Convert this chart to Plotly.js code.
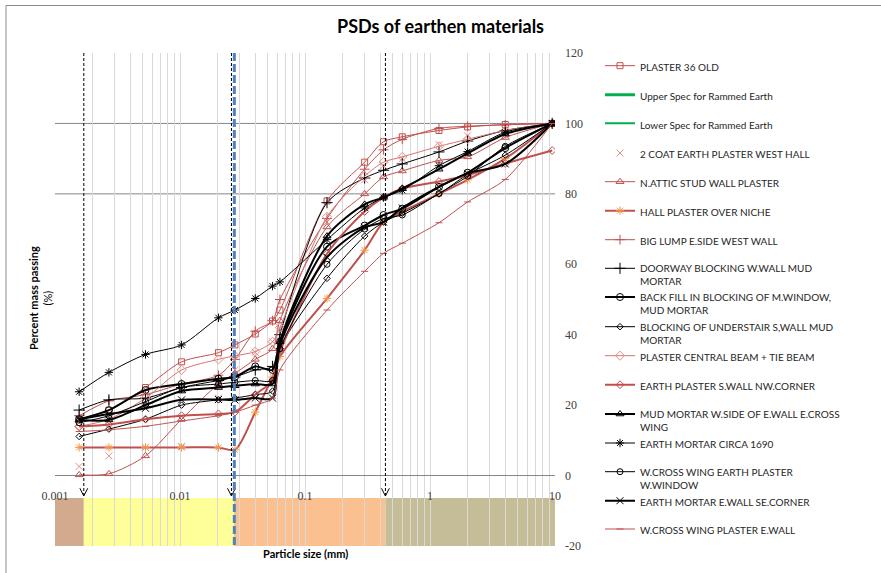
<!DOCTYPE html>
<html>
<head>
<meta charset="utf-8">
<script src="https://cdn.plot.ly/plotly-3.0.1.min.js"></script>
<style>
html,body{margin:0;padding:0;background:#fff;}
#chart{width:881px;height:573px;}
</style>
</head>
<body>
<div id="chart"></div>
<script>
// ---------------- DATA ----------------
const particleSizes = [0.00156, 0.0027, 0.0053, 0.0103, 0.0203, 0.0275, 0.04, 0.055, 0.063, 0.15, 0.3, 0.425, 0.6, 1.18, 2, 4, 9.5];

const seriesNames = [
  "PLASTER 36 OLD",
  "Upper Spec for Rammed Earth",
  "Lower Spec for Rammed Earth",
  "2 COAT EARTH PLASTER WEST HALL",
  "N.ATTIC STUD WALL PLASTER",
  "HALL PLASTER OVER NICHE",
  "BIG LUMP E.SIDE WEST WALL",
  "DOORWAY BLOCKING W.WALL MUD<br>MORTAR",
  "BACK FILL IN BLOCKING OF M.WINDOW,<br>MUD MORTAR",
  "BLOCKING OF UNDERSTAIR S,WALL MUD<br>MORTAR",
  "PLASTER CENTRAL BEAM + TIE BEAM",
  "EARTH PLASTER S.WALL NW.CORNER",
  "MUD MORTAR W.SIDE OF E.WALL E.CROSS<br>WING",
  "EARTH MORTAR CIRCA 1690",
  "W.CROSS WING EARTH PLASTER<br>W.WINDOW",
  "EARTH MORTAR E.WALL SE.CORNER",
  "W.CROSS WING PLASTER E.WALL"
];

const plaster36Old       = [16, 18.5, 25, 32.3, 34.9, 37.1, 40.2, 43.9, 47, 78, 89, 94.8, 96.2, 98, 99, 99.7, 100];
const upperSpec          = [null];   // listed in the legend, no points visible in the plot
const lowerSpec          = [null];
const twoCoatWestHall    = [2.6, 5.6, 8, 8.3, 22, 30, 35, 38, 42, 72, 84, 88, 90, 94, 96.5, 99, 100];
const nAtticStudWall     = [0.2, 0.5, 5.6, 16, 26, 29, 33, 36, 44, 70.6, 80, 84.8, 86.5, 89.5, 90.5, 96, 100];
const hallPlasterNiche   = [8, 8, 8, 8, 8, 7.3, 18, 28, 33.8, 50.3, 64, 72, 75, 80, 84, 90, 100];
const bigLumpWestWall    = [17, 21.2, 23, 26, 28.5, 33, 41, 44, 50, 73, 87, 92.5, 95.5, 98.6, 99.2, 99.6, 100];
const doorwayBlocking    = [18.6, 21.5, 22, 25, 27, 28, 30, 31, 40, 77.5, 84.5, 86.7, 88.5, 91.9, 95, 98, 100];
const backFillWindow     = [16, 18.6, 24.3, 26, 27.5, 28, 31, 30, 38, 65, 71, 74, 75.8, 82, 86, 93, 100];
const blockingUnderstair = [11.1, 13.2, 16, 20, 21.5, 22, 23, 24, 36, 56, 68, 72, 74.5, 80, 85.5, 91, 100];
const plasterCentralBeam = [14, 16, 22, 30, 33, 34, 35.2, 38, 42, 73.5, 85, 89, 90.5, 93.5, 95.5, 98, 100];
const earthPlasterSWall  = [13.9, 14.5, 16, 17, 17.5, 18, 23, 27, 35, 63, 75, 79, 81.5, 83.5, 85.3, 88.6, 92.3];
const mudMortarEWall     = [15.8, 15.8, 20, 24, 25, 25.5, 26, 26, 38, 68, 77, 79, 81.5, 87, 91.5, 97, 100];
const earthMortar1690    = [23.8, 29.3, 34.4, 37.1, 44.8, 47, 50.3, 53.8, 55, 67, 76, 79, 81, 88, 92, 97.5, 100];
const wCrossEarthPlaster = [15, 17, 21, 25, 26, 26.5, 27, 27, 36, 60, 70, 73, 74, 80.1, 85, 93.5, 100];
const earthMortarSECorner= [16, 17.5, 19.1, 21.5, 21.6, 21.5, 22, 22, 37, 62, 70.5, 72, 76, 82, 85.8, 88.5, 100];
const wCrossPlasterEWall = [12.5, 13, 14, 15.5, 17, 18, 20, 22, 30, 47, 58, 63.1, 66, 71.8, 77.7, 84.1, 100];

const seriesValues = [plaster36Old, upperSpec, lowerSpec, twoCoatWestHall, nAtticStudWall, hallPlasterNiche,
  bigLumpWestWall, doorwayBlocking, backFillWindow, blockingUnderstair, plasterCentralBeam, earthPlasterSWall,
  mudMortarEWall, earthMortar1690, wCrossEarthPlaster, earthMortarSECorner, wCrossPlasterEWall];

const xTickValues = [0.001, 0.01, 0.1, 1, 10];
const xTickLabels = ["0.001", "0.01", "0.1", "1", "10"];
const yTickValues = [-20, 0, 20, 40, 60, 80, 100, 120];
const yTickLabels = ["-20", "0", "20", "40", "60", "80", "100", "120"];

// ---------------- STYLES ----------------
const RED = '#c0504d', BLK = '#000000', GRN = '#00b050';
const styles = [
  {mode:'lines+markers', lc:RED, lw:1, sym:'square-open', ms:6, mc:RED},
  {mode:'lines', lc:GRN, lw:3},
  {mode:'lines', lc:GRN, lw:2},
  {mode:'markers', sym:'x-thin-open', ms:7, mc:'#e4928f'},
  {mode:'lines+markers', lc:RED, lw:1, sym:'triangle-up-open', ms:7, mc:RED},
  {mode:'lines+markers', lc:RED, lw:2, sym:'asterisk-open', ms:7, mc:'#f79646'},
  {mode:'lines+markers', lc:RED, lw:1, sym:'cross-thin-open', ms:7, mc:RED},
  {mode:'lines+markers', lc:BLK, lw:1, sym:'cross-thin-open', ms:8, mc:BLK},
  {mode:'lines+markers', lc:BLK, lw:2, sym:'circle-open', ms:7, mc:BLK},
  {mode:'lines+markers', lc:BLK, lw:1, sym:'diamond-open', ms:5, mc:BLK},
  {mode:'lines+markers', lc:'#d9726e', lw:1, sym:'diamond-open', ms:7, mc:'#e8908c'},
  {mode:'lines+markers', lc:RED, lw:2, sym:'diamond-open', ms:6, mc:RED},
  {mode:'lines+markers', lc:BLK, lw:2, sym:'triangle-up-open', ms:7, mc:BLK},
  {mode:'lines+markers', lc:BLK, lw:1, sym:'asterisk-open', ms:7, mc:BLK},
  {mode:'lines+markers', lc:BLK, lw:1, sym:'circle-open', ms:6, mc:BLK},
  {mode:'lines+markers', lc:BLK, lw:2, sym:'x-thin-open', ms:7, mc:BLK},
  {mode:'lines+markers', lc:RED, lw:1, sym:'line-ew-open', ms:5, mc:RED}
];

// layout geometry (pixels)
const W = 881, H = 573;
const M = {l:55, r:326, t:53, b:27};
const plotH = H - M.t - M.b, plotW = W - M.l - M.r;
const legendRowPx = [66.7, 95.7, 124.3, 154, 182.7, 211.7, 240.7, 269.3, 298, 327.7, 356.7, 385.7, 415, 444, 472.7, 501.7, 530];
const legendLeftPx = 600;
const legendTopOffset = 14;
const pyToPaper = py => (H - M.b - py) / plotH;
const pxToPaper = px => (px - M.l) / plotW;

const traces = seriesValues.map((vals, i) => {
  const s = styles[i];
  const t = {
    type: 'scatter',
    x: particleSizes.slice(0, vals.length),
    y: vals,
    name: seriesNames[i],
    mode: s.mode,
    legend: i === 0 ? 'legend' : 'legend' + (i + 1),
    connectgaps: true,
    hoverinfo: 'x+y+name'
  };
  if (s.mode.indexOf('lines') >= 0) t.line = {color: s.lc, width: s.lw, shape: 'spline', smoothing: 0.8};
  if (s.mode.indexOf('markers') >= 0) t.marker = {symbol: s.sym, size: s.ms, color: s.mc, line: {color: s.mc, width: 1}};
  return t;
});

// gridline positions on log axis
const gridVals = [], gridText = [];
for (let e = -3; e <= 0; e++) {
  for (let m = 1; m <= 9; m++) {
    const v = m * Math.pow(10, e);
    gridVals.push(v);
    const k = xTickValues.findIndex(t => Math.abs(t - v) / v < 1e-9);
    gridText.push(k >= 0 ? xTickLabels[k] : '');
  }
}
gridVals.push(10); gridText.push('10');

// soil class bands and markers
const bandBounds = [0.001, 0.0017, 0.027, 0.44, 10];
const bandColors = ['#d2aa8d', '#ffff99', '#fac090', '#c4bd97'];
const shapes = [];
for (let i = 0; i < 4; i++) {
  shapes.push({type:'rect', xref:'x', yref:'y', x0:bandBounds[i], x1:bandBounds[i+1], y0:-20, y1:-6.4,
    fillcolor:bandColors[i], line:{width:0}, layer:'below'});
}
[100, 80].forEach(v => shapes.push({type:'line', xref:'paper', yref:'y', x0:0, x1:1, y0:v, y1:v,
  line:{color:'#868686', width:1}, layer:'between'}));
// dashed arrows
[0.0017, 0.0258, 0.44].forEach(xv => {
  shapes.push({type:'line', xref:'x', yref:'y', x0:xv, x1:xv, y0:120, y1:-5.6,
    line:{color:'#000', width:1, dash:'3px,2px'}, layer:'above'});
  const f = 1.075;
  shapes.push({type:'path', xref:'x', yref:'y',
    path:`M${xv*f},-3.6 L${xv},-5.8 L${xv/f},-3.6`, line:{color:'#000', width:1}, layer:'above'});
});
shapes.push({type:'line', xref:'x', yref:'y', x0:0.0272, x1:0.0272, y0:120, y1:-20,
  line:{color:'#4f81bd', width:3, dash:'8px,3px'}, layer:'above'});
// chart border
shapes.push({type:'rect', xref:'paper', yref:'paper', x0:pxToPaper(6), x1:2, y0:-0.3, y1:pyToPaper(5.5),
  line:{color:'#8c8c8c', width:1}, fillcolor:'rgba(0,0,0,0)', layer:'above'});

const FONT = 'Lato, "Open Sans", sans-serif';
const NUMFONT = '"Liberation Serif", serif';

const layout = {
  width: W, height: H,
  margin: {l:M.l, r:M.r, t:M.t, b:M.b, pad:0},
  paper_bgcolor:'#ffffff', plot_bgcolor:'#ffffff',
  font: {family: FONT, size: 10, color:'#262626'},
  title: {text:'<b>PSDs of earthen materials</b>', x:0.5, xref:'container', xanchor:'center',
    y: 1 - 27/H, yref:'container', yanchor:'middle', font:{family:FONT, size:18, color:'#000'}},
  xaxis: {type:'log', range:[-3, 1], tickmode:'array', tickvals:gridVals, ticktext:gridText,
    showgrid:true, gridcolor:'#d9d9d9', gridwidth:1, zeroline:false, showline:false, ticks:'',
    anchor:'free', position: pyToPaper(475.6), ticklabelstandoff: 11, color:'#404040',
    tickfont:{family:NUMFONT, size:12, color:'#404040'}, fixedrange:true},
  yaxis: {range:[-20, 120], tickmode:'array', tickvals:yTickValues, ticktext:yTickLabels,
    side:'right', showgrid:false, zeroline:true, color:'#404040',
    zerolinecolor:'#868686', zerolinewidth:1, showline:false, ticks:'', ticklabelstandoff:9,
    tickfont:{family:NUMFONT, size:12, color:'#404040'}, fixedrange:true},
  shapes: shapes,
  annotations: [
    {text:'<b>Percent mass passing</b><br>(%)', xref:'paper', yref:'paper', x:pxToPaper(40), y:pyToPaper(298),
      xanchor:'center', yanchor:'middle', textangle:-90, showarrow:false, font:{family:FONT, size:11, color:'#000'}},
    {text:'<b>Particle size (mm)</b>', xref:'paper', yref:'paper', x:0.5, y:pyToPaper(553),
      xanchor:'center', yanchor:'middle', showarrow:false, font:{family:FONT, size:11, color:'#000'}}
  ],
  showlegend: true
};

legendRowPx.forEach((py, i) => {
  const key = i === 0 ? 'legend' : 'legend' + (i + 1);
  layout[key] = {x: pxToPaper(legendLeftPx), xanchor:'left', y: pyToPaper(py - legendTopOffset), yanchor:'top',
    valign:'top', bgcolor:'rgba(0,0,0,0)', borderwidth:0, itemwidth:30,
    font:{family:FONT, size:10, color:'#262626'}, itemclick:false, itemdoubleclick:false};
});

Plotly.newPlot('chart', traces, layout, {displayModeBar:false, staticPlot:true});
</script>
</body>
</html>
